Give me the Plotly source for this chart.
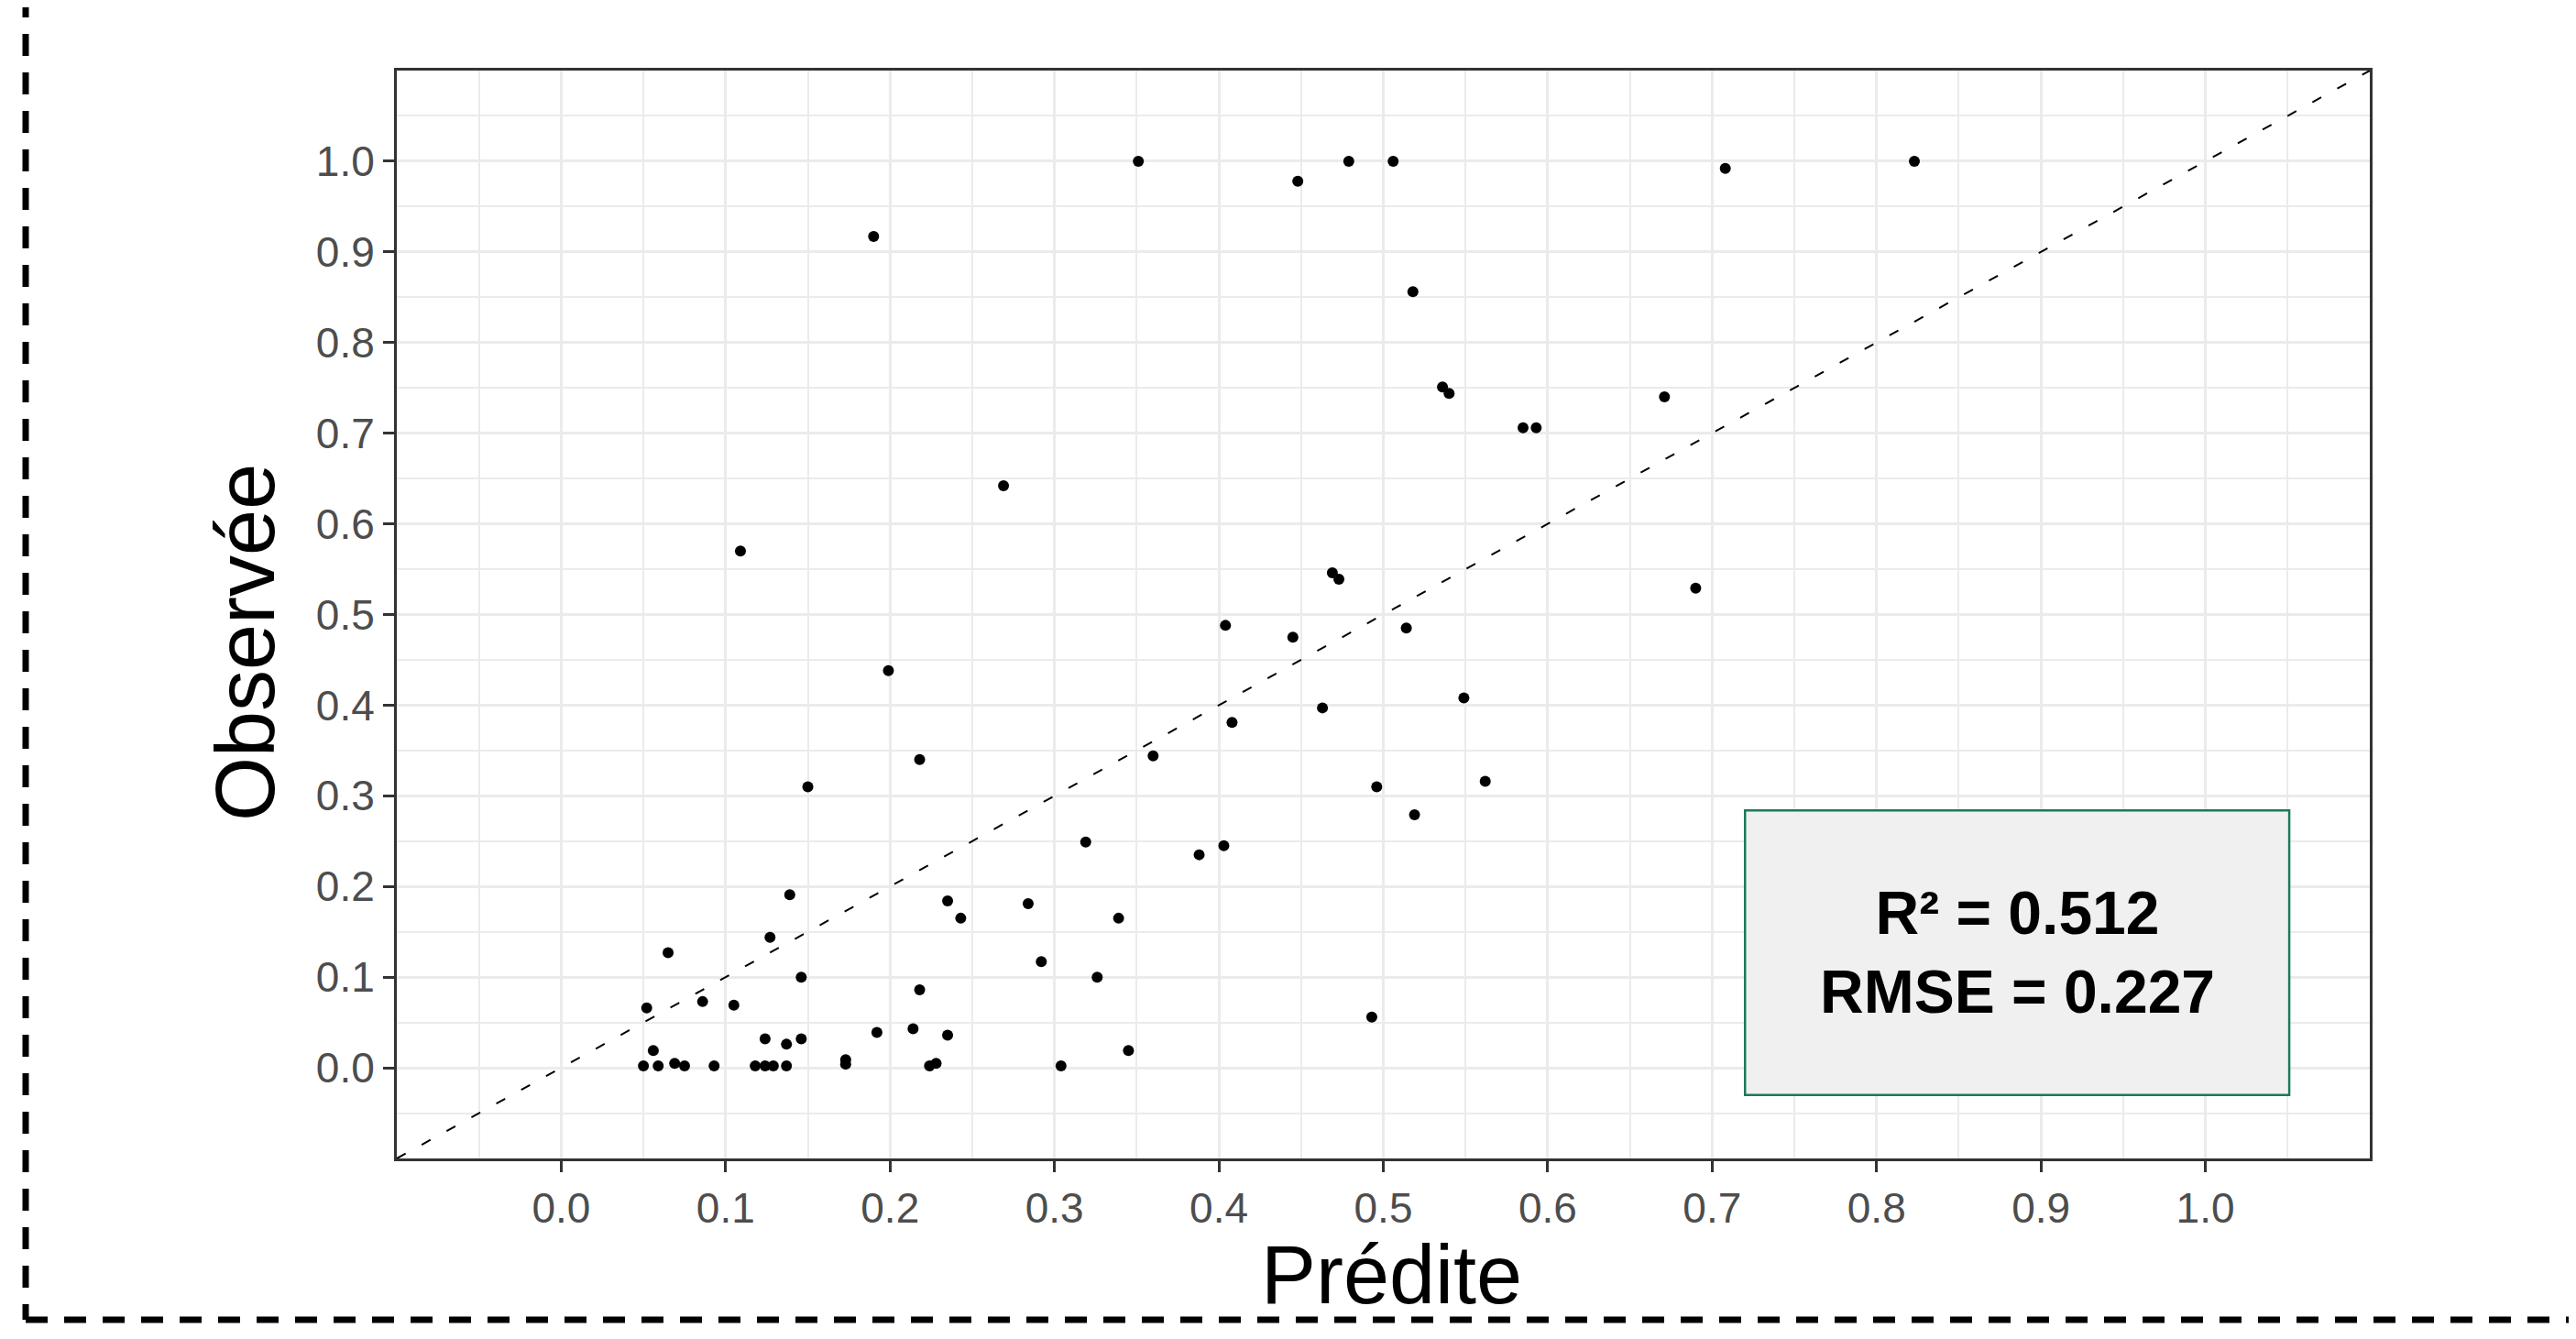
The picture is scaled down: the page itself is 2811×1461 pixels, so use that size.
import plotly.graph_objects as go

# ---- data ----
predite = [0.351, 0.448, 0.479, 0.506, 0.708, 0.823, 0.190, 0.518, 0.536, 0.540,
           0.585, 0.593, 0.671, 0.269, 0.109, 0.469, 0.473, 0.690, 0.404, 0.514,
           0.445, 0.199, 0.549, 0.463, 0.408, 0.218, 0.360, 0.562, 0.150, 0.496,
           0.519, 0.319, 0.403, 0.388, 0.139, 0.235, 0.284, 0.243, 0.339, 0.127,
           0.065, 0.292, 0.146, 0.326, 0.218, 0.086, 0.105, 0.052, 0.493, 0.192,
           0.214, 0.235, 0.124, 0.146, 0.137, 0.056, 0.345, 0.173, 0.173, 0.050,
           0.059, 0.069, 0.075, 0.093, 0.118, 0.124, 0.129, 0.137, 0.224, 0.228,
           0.304]
observee = [1.000, 0.978, 1.000, 1.000, 0.992, 1.000, 0.917, 0.856, 0.751, 0.744,
            0.706, 0.706, 0.740, 0.642, 0.570, 0.546, 0.539, 0.529, 0.488, 0.485,
            0.475, 0.438, 0.408, 0.397, 0.381, 0.340, 0.344, 0.316, 0.310, 0.310,
            0.279, 0.249, 0.245, 0.235, 0.191, 0.184, 0.181, 0.165, 0.165, 0.144,
            0.127, 0.117, 0.100, 0.100, 0.086, 0.073, 0.069, 0.066, 0.056, 0.039,
            0.043, 0.036, 0.032, 0.032, 0.026, 0.019, 0.019, 0.009, 0.004, 0.002,
            0.002, 0.005, 0.002, 0.002, 0.002, 0.002, 0.002, 0.002, 0.002, 0.005,
            0.002]
tick_values = [0.0, 0.1, 0.2, 0.3, 0.4, 0.5, 0.6, 0.7, 0.8, 0.9, 1.0]
tick_labels = ["0.0", "0.1", "0.2", "0.3", "0.4", "0.5", "0.6", "0.7", "0.8", "0.9", "1.0"]
axis_limits = [-0.1, 1.1]
r2_value = 0.512
rmse_value = 0.227

# ---- layout constants ----
W, H = 2811, 1461
OFF = 8                      # page body margin in the browser
L, R, T, B = 425, 233, 69, 205
FONT = "Liberation Sans, Arial, sans-serif"
GRID = "#EBEBEB"
FRAME = "#333333"

pw = W - L - R
ph = H - T - B
def px_x(p):                 # screen pixel -> paper x
    return (p - OFF - L) / pw
def px_y(p):                 # screen pixel -> paper y
    return (H - B - (p - OFF)) / ph

fig = go.Figure()

# identity (1:1) line across the axis limits
fig.add_trace(go.Scatter(
    x=axis_limits, y=axis_limits, mode="lines",
    line=dict(color="black", width=2, dash="11px,20px"),
    hoverinfo="skip", showlegend=False))

fig.add_trace(go.Scatter(
    x=predite, y=observee, mode="markers",
    marker=dict(color="black", size=12, line=dict(width=0)),
    showlegend=False))

# stats box
box_x = [0.720, 1.051]
box_y = [-0.030, 0.284]
fig.add_shape(type="rect", xref="x", yref="y",
              x0=box_x[0], x1=box_x[1], y0=box_y[0], y1=box_y[1],
              fillcolor="#F0F0F0", line=dict(color="#1B7A5E", width=2.5), layer="above")
fig.add_annotation(xref="x", yref="y",
                   x=(box_x[0] + box_x[1]) / 2, y=(box_y[0] + box_y[1]) / 2,
                   text=f"<b>R² = {r2_value:.3f}<br>RMSE = {rmse_value:.3f}</b>",
                   showarrow=False, align="center",
                   font=dict(family=FONT, size=66, color="black"))

# axis titles (placed as in the reference)
fig.add_annotation(xref="paper", yref="paper", x=px_x(268), y=px_y(701),
                   xanchor="center", yanchor="middle", textangle=-90,
                   text="Observée", showarrow=False,
                   font=dict(family=FONT, size=90, color="black"))
fig.add_annotation(xref="paper", yref="paper", x=px_x(1518), y=px_y(1391),
                   xanchor="center", yanchor="middle",
                   text="Prédite", showarrow=False,
                   font=dict(family=FONT, size=90, color="black"))

# outer dashed frame (partially cropped in the original)
frame_line = dict(color="black", width=7, dash="24px,18px")
fig.add_shape(type="line", xref="paper", yref="paper",
              x0=px_x(28), x1=px_x(28), y0=px_y(-5), y1=px_y(1440), line=frame_line)
fig.add_shape(type="line", xref="paper", yref="paper",
              x0=px_x(28), x1=px_x(W + 20), y0=px_y(1440), y1=px_y(1440), line=frame_line)

axis_common = dict(
    range=axis_limits, tickmode="array", tickvals=tick_values, ticktext=tick_labels,
    showgrid=True, gridcolor=GRID, gridwidth=2.5,
    minor=dict(tickmode="linear", tick0=0, dtick=0.05, showgrid=True,
               gridcolor=GRID, gridwidth=2, ticks=""),
    zeroline=False, showline=True, linecolor=FRAME, linewidth=3, mirror=True,
    ticks="outside", ticklen=12, tickwidth=3, tickcolor=FRAME,
    tickfont=dict(family=FONT, size=46, color="#4D4D4D"),
)

fig.update_layout(
    width=W, height=H,
    margin=dict(l=L, r=R, t=T, b=B),
    paper_bgcolor="white", plot_bgcolor="white",
    xaxis=dict(**axis_common),
    yaxis=dict(**axis_common),
    showlegend=False,
)

fig.write_html("out.html")
